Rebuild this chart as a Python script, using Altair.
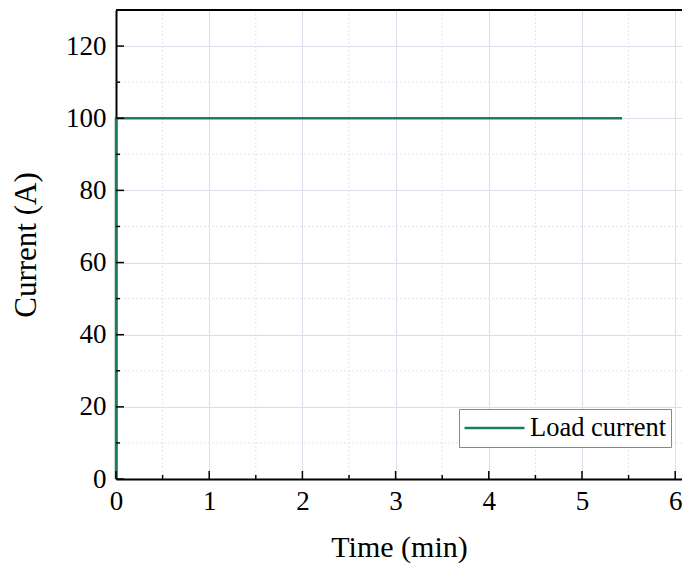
import altair as alt
import pandas as pd

# data
time_min = [0.0, 0.0, 5.43]
current_a = [0, 100, 100]
series_name = "Load current"

x_major = [0, 1, 2, 3, 4, 5, 6]
x_minor = [0.5, 1.5, 2.5, 3.5, 4.5, 5.5]
y_major = [0, 20, 40, 60, 80, 100, 120]
y_minor = [10, 30, 50, 70, 90, 110]

W, H = 566, 469
FONT = "Liberation Serif"
LINE_COLOR = "#1f7a60"

xs = alt.Scale(domain=[0, 6.073], nice=False, zero=False)
ys = alt.Scale(domain=[0, 130], nice=False)

ax_x = alt.Axis(values=x_major, format="d", grid=True, gridColor="#dcdcea",
                tickSize=0, labelPadding=9, titlePadding=18, title="Time (min)",
                titleFontSize=30, labelFlush=False)
ax_y = alt.Axis(values=y_major, grid=True, gridColor="#dcdcea",
                tickSize=0, labelPadding=10, titlePadding=23, title="Current (A)",
                titleFontSize=31, labelFlush=False)

df = pd.DataFrame({"t": time_min, "c": current_a, "i": range(len(time_min)), "s": series_name})

# minor grid
gx_minor = alt.Chart(pd.DataFrame({"v": x_minor})).mark_rule(
    color="#e4e4ec", strokeDash=[2, 2], strokeWidth=1
).encode(x=alt.X("v:Q", scale=xs, axis=ax_x))
gy_minor = alt.Chart(pd.DataFrame({"v": y_minor})).mark_rule(
    color="#e4e4ec", strokeDash=[2, 2], strokeWidth=1
).encode(y=alt.Y("v:Q", scale=ys, axis=ax_y))

# inward ticks
tx_major = alt.Chart(pd.DataFrame({"v": x_major})).mark_rule(color="black", strokeWidth=1.5).encode(
    x=alt.X("v:Q", scale=xs, axis=ax_x), y=alt.value(H), y2=alt.value(H - 8))
tx_minor = alt.Chart(pd.DataFrame({"v": x_minor})).mark_rule(color="black", strokeWidth=1.5).encode(
    x=alt.X("v:Q", scale=xs, axis=ax_x), y=alt.value(H), y2=alt.value(H - 4))
ty_major = alt.Chart(pd.DataFrame({"v": y_major})).mark_rule(color="black", strokeWidth=1.5).encode(
    y=alt.Y("v:Q", scale=ys, axis=ax_y), x=alt.value(0), x2=alt.value(8))
ty_minor = alt.Chart(pd.DataFrame({"v": y_minor})).mark_rule(color="black", strokeWidth=1.5).encode(
    y=alt.Y("v:Q", scale=ys, axis=ax_y), x=alt.value(0), x2=alt.value(4))

top_line = alt.Chart(pd.DataFrame({"a": [0]})).mark_rule(color="black", strokeWidth=2).encode(
    x=alt.value(0), x2=alt.value(W), y=alt.value(0))

line = alt.Chart(df).mark_line(strokeWidth=2.5).encode(
    x=alt.X("t:Q", scale=xs, axis=ax_x),
    y=alt.Y("c:Q", scale=ys, axis=ax_y),
    order="i:Q",
    color=alt.Color("s:N", scale=alt.Scale(range=[LINE_COLOR]), title=None,
                    legend=alt.Legend(orient="none", legendX=343, legendY=399,
                                      symbolType="stroke", symbolSize=3600, clipHeight=30,
                                      symbolStrokeWidth=2.5, labelFontSize=26.5,
                                      labelFont=FONT, padding=4, labelOffset=4,
                                      strokeColor="#888888", fillColor="white",
                                      labelColor="black")),
)

chart = alt.layer(gx_minor, gy_minor, line, tx_major, tx_minor, ty_major, ty_minor, top_line).properties(
    width=W, height=H,
    autosize=alt.AutoSizeParams(type="none"),
    padding={"left": 108, "top": 2, "right": 0, "bottom": 86},
).configure_view(stroke=None).configure_axis(
    domainColor="black", domainWidth=2,
    labelFont=FONT, labelFontSize=27, labelColor="black",
    titleFont=FONT, titleFontWeight="normal", titleColor="black",
)

chart.save("out.html", embed_options={"renderer": "svg", "actions": False})
